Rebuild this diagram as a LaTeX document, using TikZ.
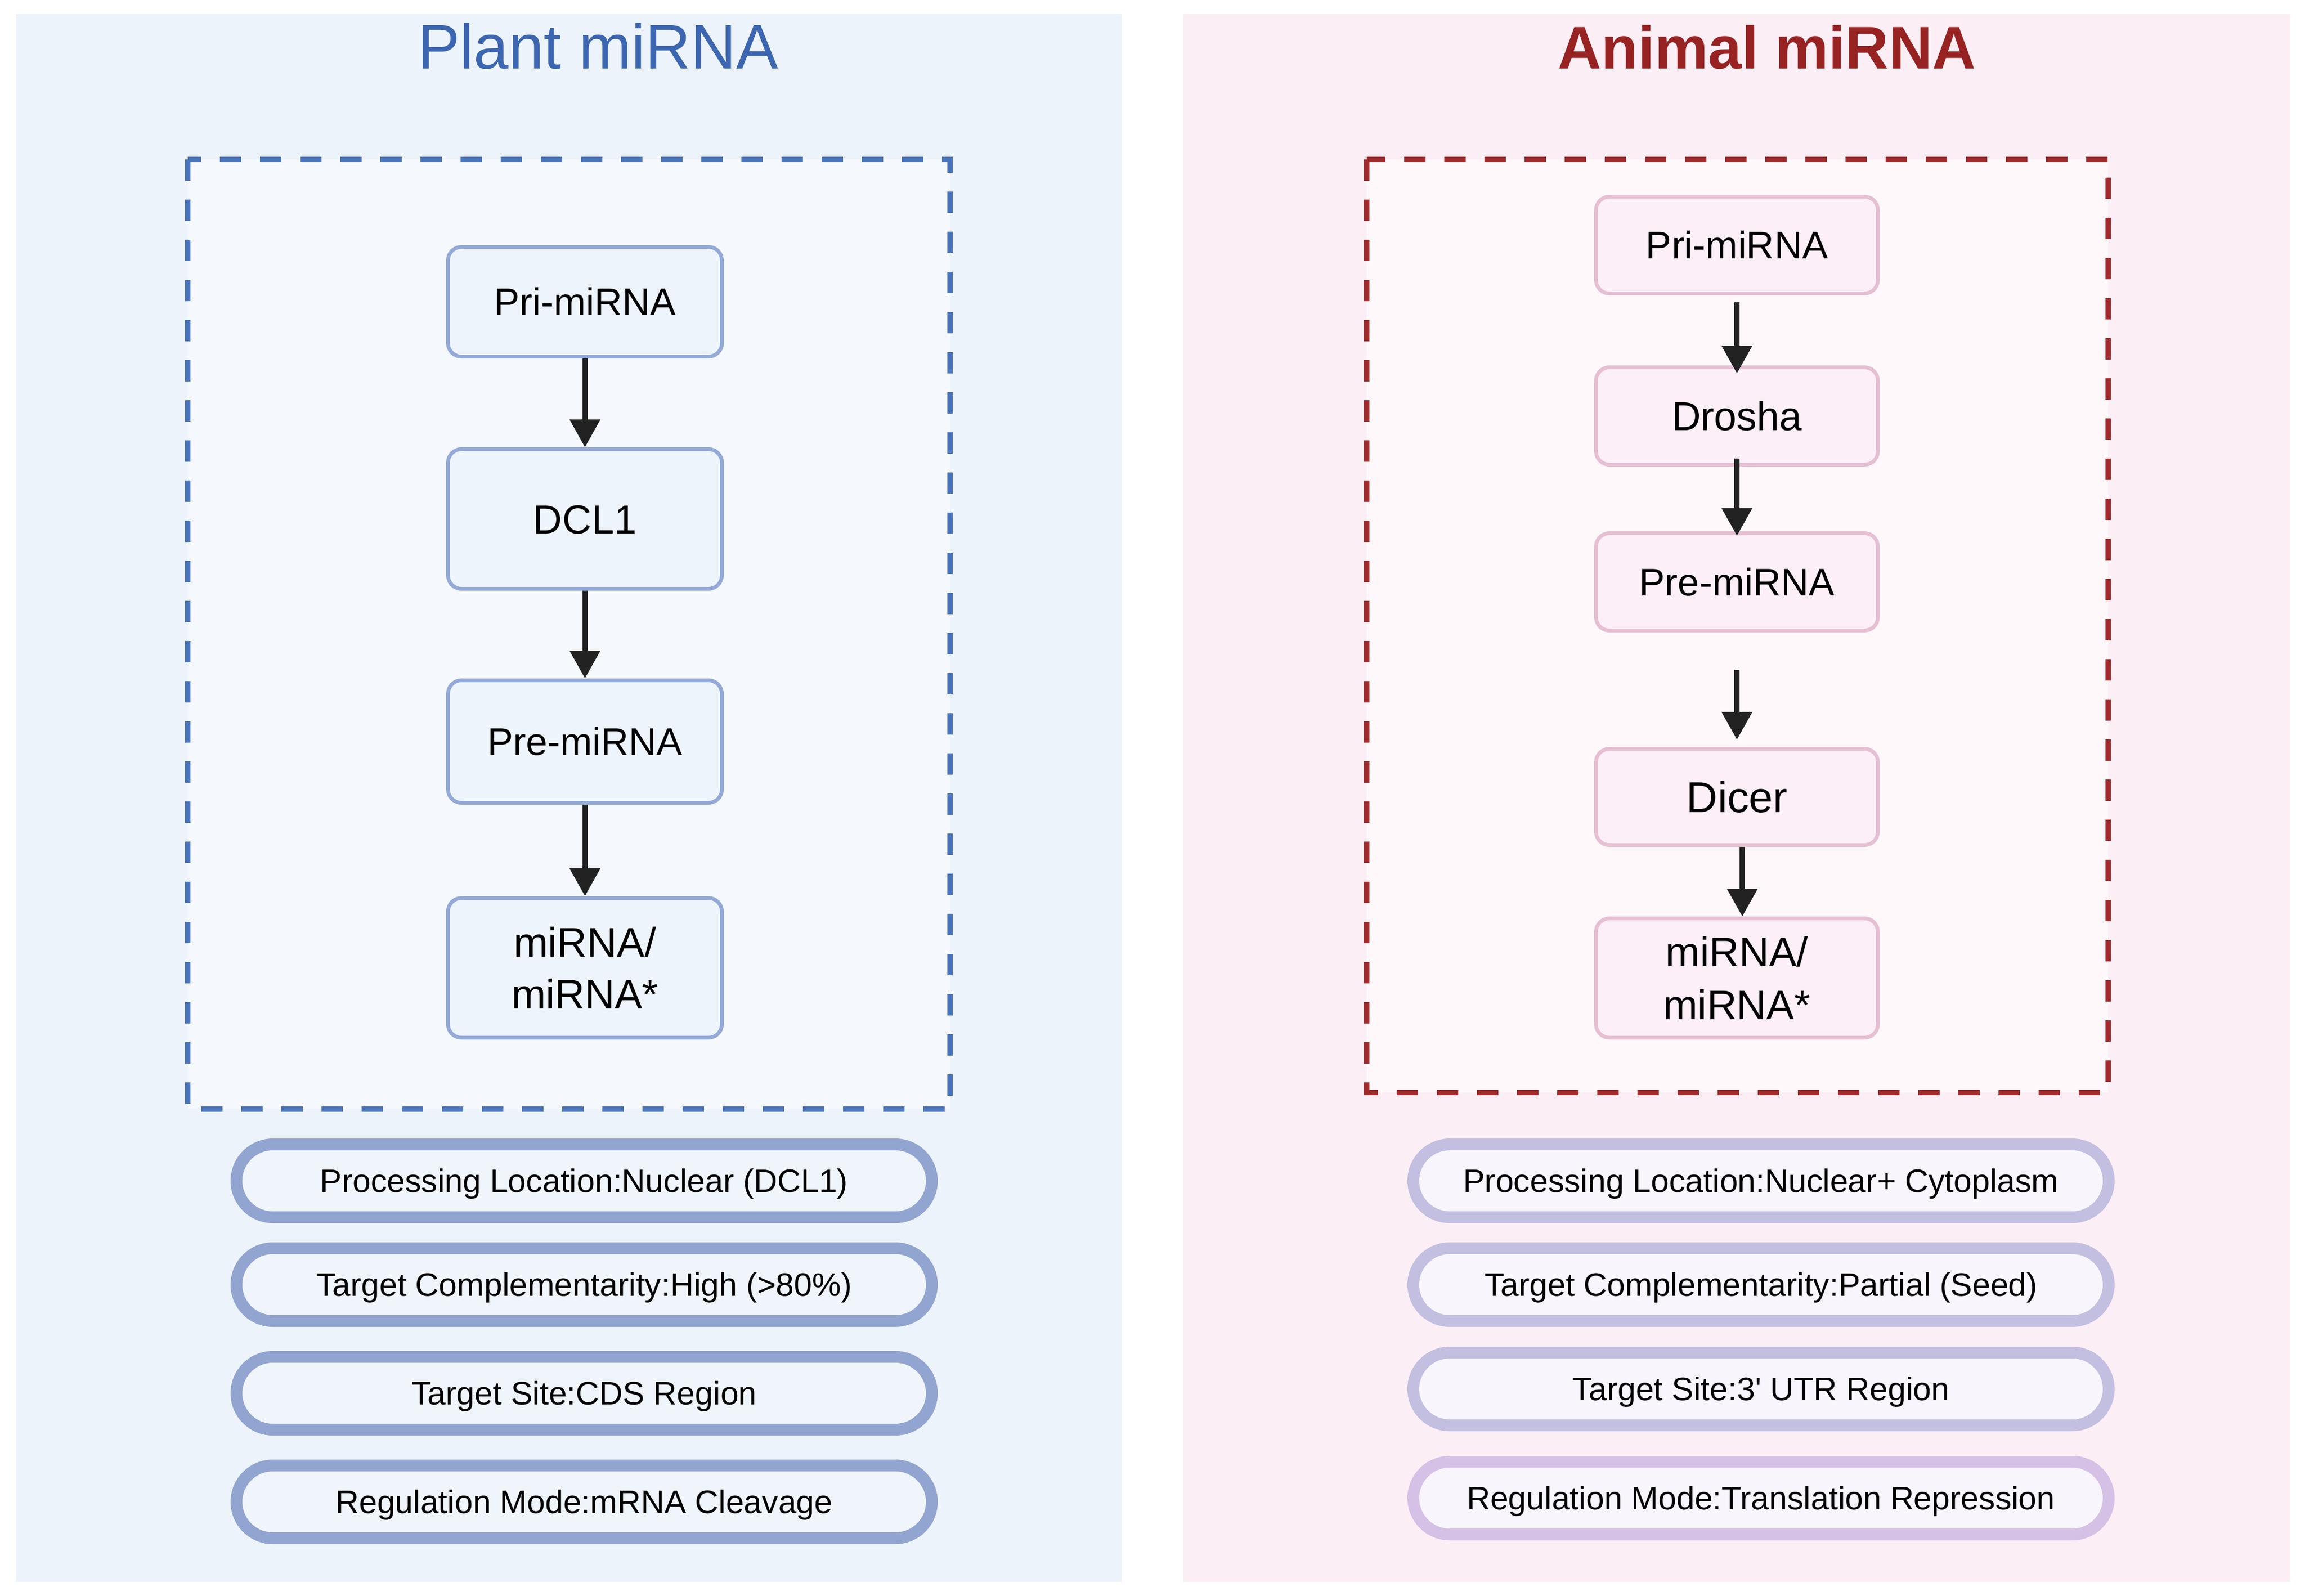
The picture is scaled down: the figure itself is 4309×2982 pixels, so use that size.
\documentclass[tikz,border=0pt]{standalone}
\usepackage{fontspec}
\setmainfont{Liberation Sans}
\usetikzlibrary{arrows.meta}
\definecolor{plantbg}{HTML}{EDF3FB}
\definecolor{plantinner}{HTML}{F5F9FE}
\definecolor{plantdash}{HTML}{4A74BA}
\definecolor{planttitle}{HTML}{3C66B0}
\definecolor{plantnodefill}{HTML}{EEF4FC}
\definecolor{plantnodeborder}{HTML}{93AAD8}
\definecolor{plantpillborder}{HTML}{91A5D0}
\definecolor{plantpillfill}{HTML}{F0F5FC}
\definecolor{animalbg}{HTML}{FCEEF5}
\definecolor{animalinner}{HTML}{FEF8FB}
\definecolor{animaldash}{HTML}{9E2A2B}
\definecolor{animaltitle}{HTML}{962222}
\definecolor{animalnodefill}{HTML}{FCEFF7}
\definecolor{animalnodeborder}{HTML}{E6BFD3}
\definecolor{animalpillborder}{HTML}{C2BFE1}
\definecolor{animalpillborderb}{HTML}{D5C0E6}
\definecolor{animalpillfill}{HTML}{F8F5FD}
\definecolor{arrowc}{HTML}{222222}
\begin{document}
\begin{tikzpicture}[x=0.1mm,y=-0.1mm,
  dashbox/.style={line width=1mm, dash pattern=on 4mm off 3.5mm},
  titletext/.style={anchor=base, inner sep=0pt},
  stepbox/.style={rounded corners=2.5mm, line width=0.7mm, inner sep=0pt,
     font=\fontsize{20.5}{25}\selectfont, text=black, align=center},
  onel/.style={text height=#1, text depth=0pt},
  plantbox/.style={stepbox, draw=plantnodeborder, fill=plantnodefill, minimum width=51.2mm},
  animalbox/.style={stepbox, draw=animalnodeborder, fill=animalnodefill, minimum width=52.7mm},
  pill/.style={rounded corners=6.8mm, line width=2.2mm, inner sep=0pt,
     minimum width=130mm, minimum height=13.6mm, text height=12.4pt, text depth=0pt,
     font=\fontsize{17.3}{20}\selectfont, text=black},
  plantpill/.style={pill, draw=plantpillborder, fill=plantpillfill},
  animalpill/.style={pill, draw=animalpillborder, fill=animalpillfill},
  arr/.style={draw=arrowc, line width=1mm, -{Triangle[length=5.2mm,width=5.5mm]}}
]
\useasboundingbox (0,0) rectangle (4309,2982);
\fill[white] (0,0) rectangle (4309,2982);
% panels
\fill[plantbg] (30,26) rectangle (2097,2957);
\fill[animalbg] (2212,26) rectangle (4281,2957);
\draw[dashbox, draw=plantdash, fill=plantinner] (351,298) rectangle (1776,2073);
\draw[dashbox, draw=animaldash, fill=animalinner] (2555,298) rectangle (3941,2042);
% titles
\node[titletext, text=planttitle, font=\fontsize{33.5}{40}\selectfont] (ptitle) at (1118,128) {Plant miRNA};
\node[titletext, text=animaltitle, font=\fontsize{32}{40}\selectfont\bfseries] (atitle) at (3303,128) {Animal miRNA};
% plant flow
\node[plantbox, onel=14.7pt, minimum height=20.5mm] (p1) at (1093.5,564) {Pri-miRNA};
\node[plantbox, onel=15.4pt, minimum height=26.1mm, font=\fontsize{21.5}{25}\selectfont] (p2) at (1093.5,970) {DCL1};
\node[plantbox, onel=14.7pt, minimum height=22.9mm] (p3) at (1093.5,1386) {Pre-miRNA};
\node[plantbox, minimum height=26.1mm, font=\fontsize{22}{27.6}\selectfont] (p4) at (1093.5,1809) {miRNA/\\miRNA*};
\draw[arr] (p1.south) -- (p2.north);
\draw[arr] (p2.south) -- (p3.north);
\draw[arr] (p3.south) -- (p4.north);
% animal flow
\node[animalbox, onel=14.7pt, minimum height=18.1mm] (a1) at (3247,458) {Pri-miRNA};
\node[animalbox, onel=15.4pt, minimum height=18.2mm, font=\fontsize{21.5}{25}\selectfont] (a2) at (3247,777.5) {Drosha};
\node[animalbox, onel=14.7pt, minimum height=18.2mm] (a3) at (3247,1087.5) {Pre-miRNA};
\node[animalbox, onel=16.5pt, minimum height=18.0mm, font=\fontsize{23}{27}\selectfont] (a4) at (3247,1489.5) {Dicer};
\node[animalbox, minimum height=22.3mm, font=\fontsize{22}{28}\selectfont] (a5) at (3247,1828) {miRNA/\\miRNA*};
\draw[arr, shorten <=1.3mm, shorten >=-1.5mm] (a1.south) -- (a2.north);
\draw[arr, shorten <=-1.5mm, shorten >=-0.85mm] (a2.south) -- (a3.north);
\draw[arr, shorten <=6.95mm, shorten >=1.35mm] (a3.south) -- (a4.north);
\draw[arr] ([xshift=1mm]a4.south) -- ([xshift=1mm]a5.north);
% plant pills
\node[plantpill] (pp1) at (1092,2207) {Processing Location:Nuclear (DCL1)};
\node[plantpill] (pp2) at (1092,2401) {Target Complementarity:High (>80\%)};
\node[plantpill] (pp3) at (1092,2604) {Target Site:CDS Region};
\node[plantpill] (pp4) at (1092,2807) {Regulation Mode:mRNA Cleavage};
% animal pills
\node[animalpill] (ap1) at (3292,2207) {Processing Location:Nuclear+ Cytoplasm};
\node[animalpill] (ap2) at (3292,2401) {Target Complementarity:Partial (Seed)};
\node[animalpill] (ap3) at (3292,2596) {Target Site:3\textquotesingle{} UTR Region};
\node[animalpill, draw=animalpillborderb] (ap4) at (3292,2800) {Regulation Mode:Translation Repression};
\end{tikzpicture}
\end{document}
